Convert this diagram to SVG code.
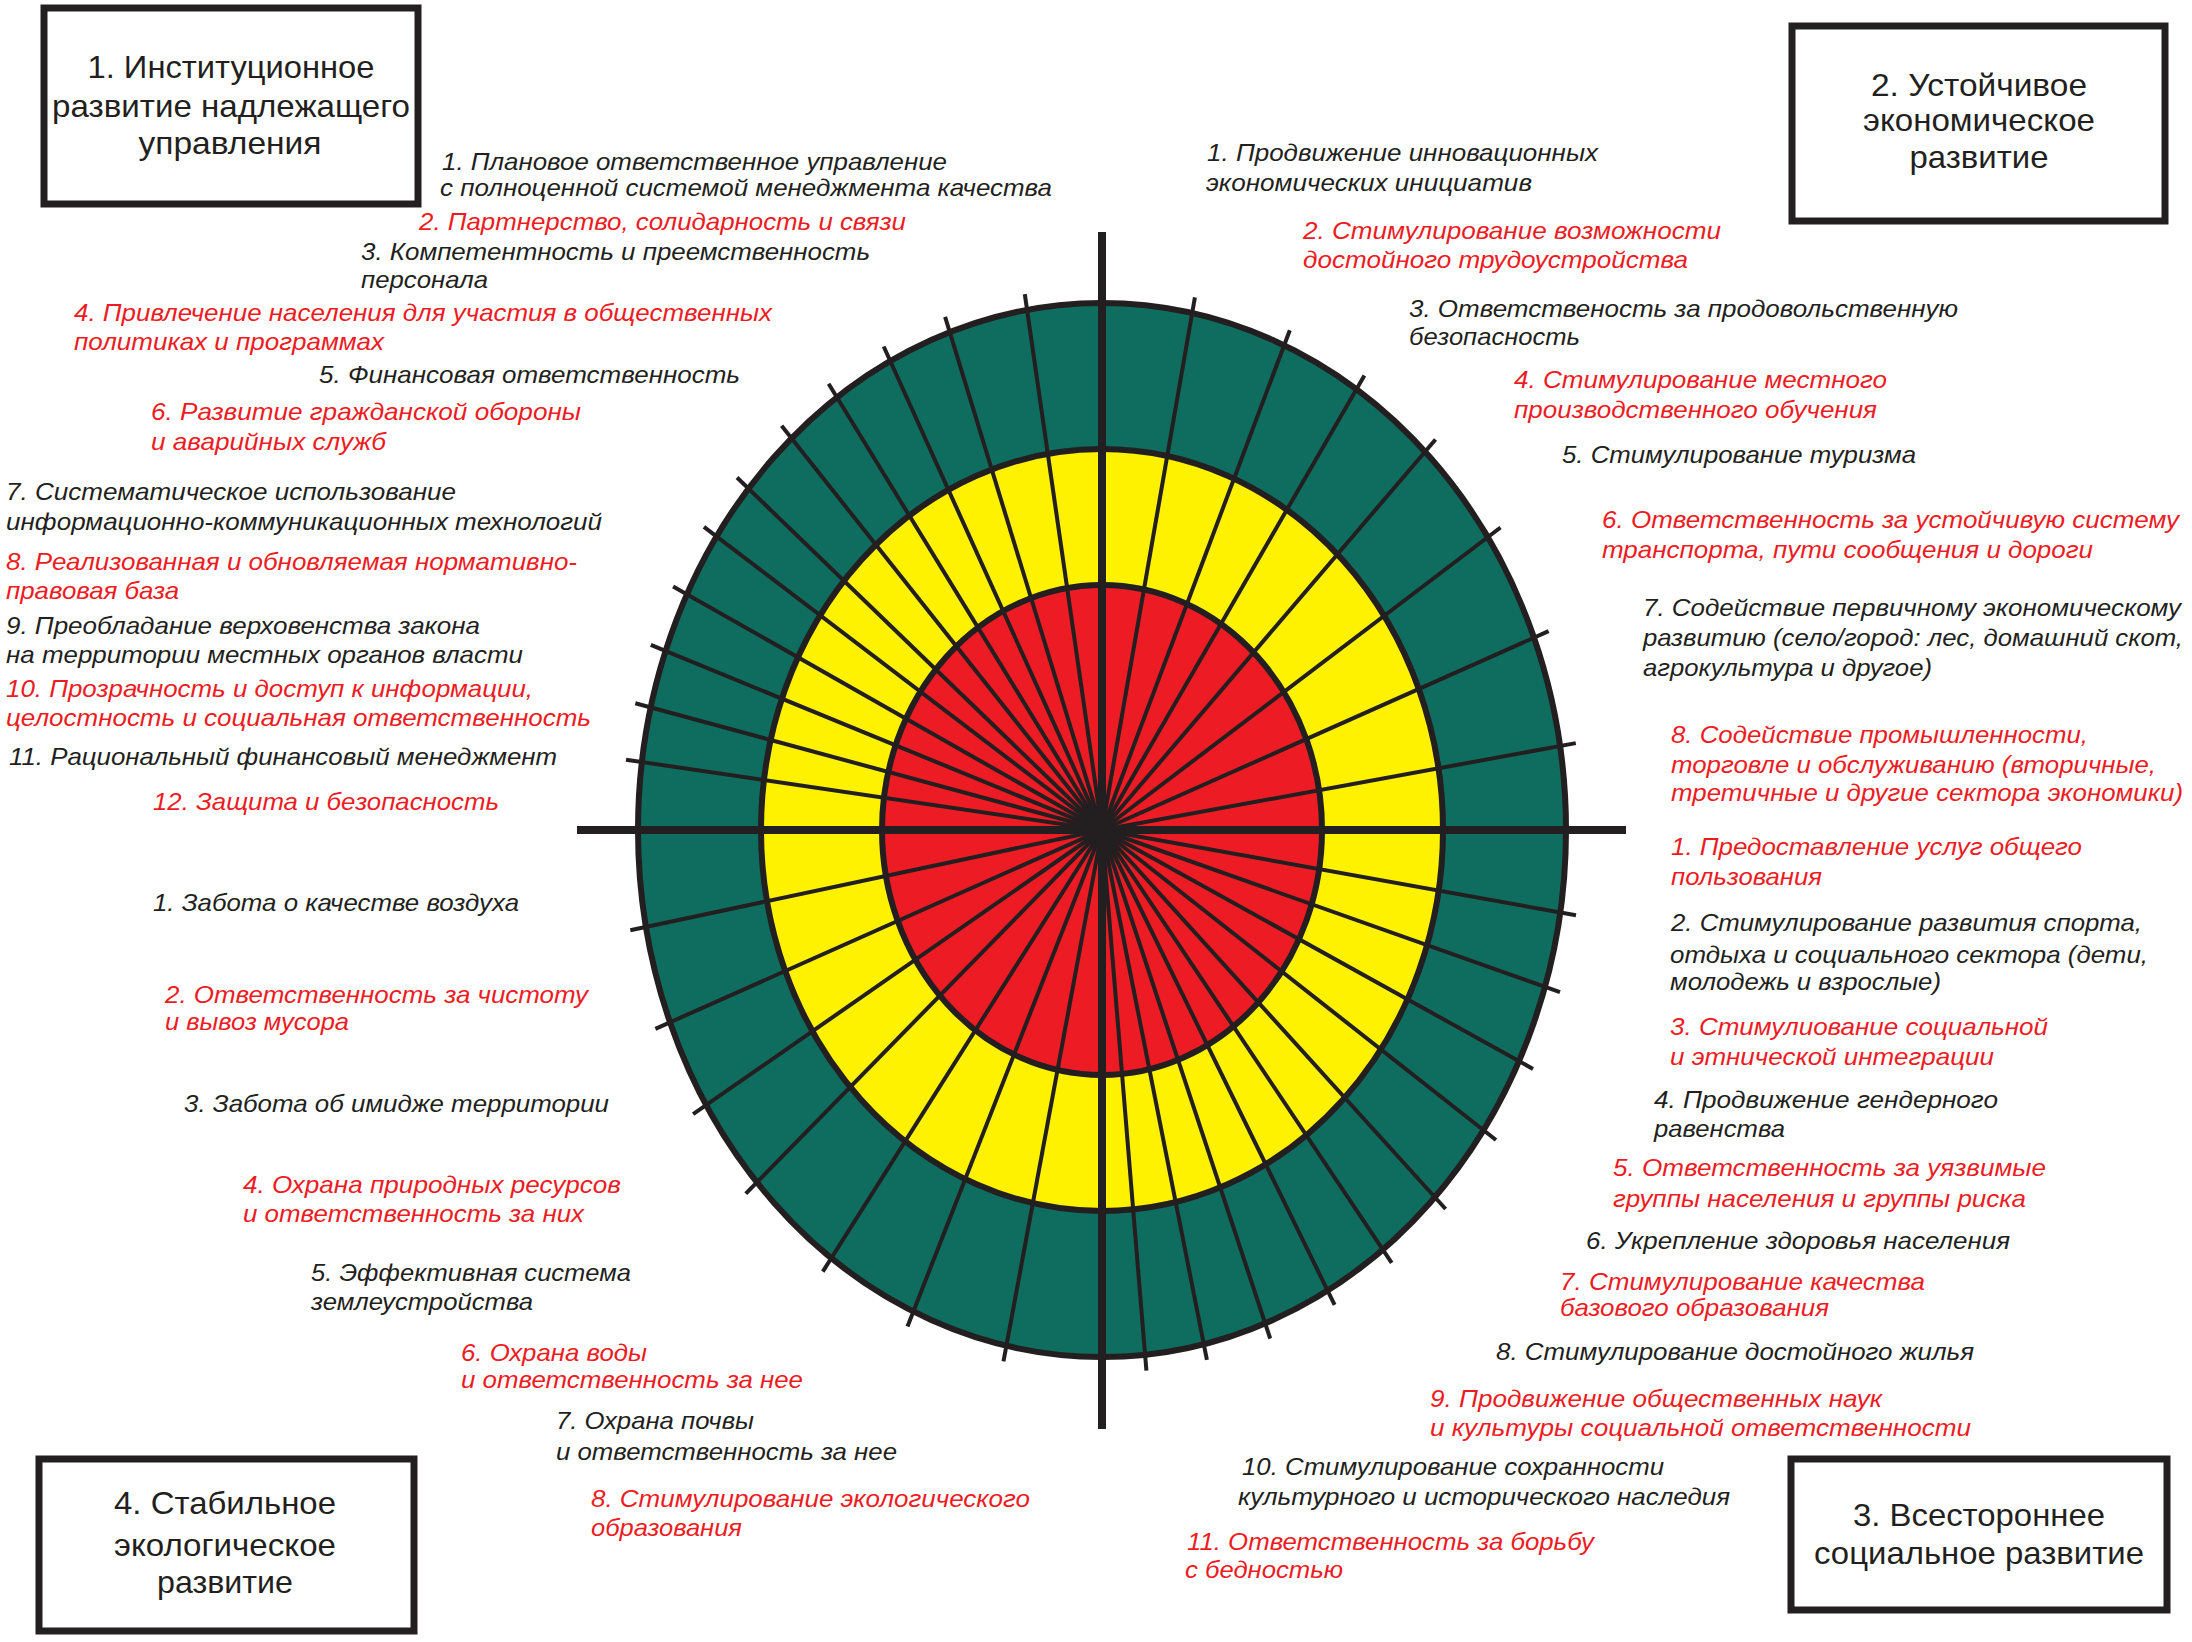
<svg xmlns="http://www.w3.org/2000/svg" width="2192" height="1642" viewBox="0 0 2192 1642">
<style>
.t{font-family:"Liberation Sans",Arial,sans-serif;font-style:italic;font-size:24px;fill:#231f20}
.r{fill:#ed1c24}
.bt{font-family:"Liberation Sans",Arial,sans-serif;font-size:32px;fill:#231f20;text-anchor:middle}
.box{fill:#fff;stroke:#231f20;stroke-width:7}
.ring{stroke:#231f20;stroke-width:6}
.sp{stroke:#231f20;stroke-width:4;stroke-linecap:butt}
.ax{stroke:#231f20;stroke-width:8}
</style>
<rect width="2192" height="1642" fill="#fff"/>
<g id="wheel">
<ellipse class="ring" cx="1102" cy="830" rx="464" ry="527" fill="#0f6d5f"/>
<ellipse class="ring" cx="1102" cy="830" rx="341" ry="381" fill="#fff200"/>
<ellipse class="ring" cx="1102" cy="830" rx="220" ry="245" fill="#ed1c24"/>
</g>
<g id="connectors">
<g id="spokes-q1">
<line class="sp" x1="1102" y1="830" x2="1024.8" y2="294.1"/>
<line class="sp" x1="1102" y1="830" x2="945.1" y2="316.9"/>
<line class="sp" x1="1102" y1="830" x2="883.7" y2="346.5"/>
<line class="sp" x1="1102" y1="830" x2="828.6" y2="383.8"/>
<line class="sp" x1="1102" y1="830" x2="781.6" y2="425.8"/>
<line class="sp" x1="1102" y1="830" x2="737.0" y2="477.5"/>
<line class="sp" x1="1102" y1="830" x2="703.9" y2="526.8"/>
<line class="sp" x1="1102" y1="830" x2="673.1" y2="586.4"/>
<line class="sp" x1="1102" y1="830" x2="650.8" y2="644.9"/>
<line class="sp" x1="1102" y1="830" x2="635.3" y2="703.2"/>
<line class="sp" x1="1102" y1="830" x2="626.0" y2="759.7"/>
</g>
<g id="spokes-q2">
<line class="sp" x1="1102" y1="830" x2="1194.9" y2="297.3"/>
<line class="sp" x1="1102" y1="830" x2="1289.8" y2="330.3"/>
<line class="sp" x1="1102" y1="830" x2="1364.4" y2="375.4"/>
<line class="sp" x1="1102" y1="830" x2="1435.5" y2="439.5"/>
<line class="sp" x1="1102" y1="830" x2="1500.5" y2="527.5"/>
<line class="sp" x1="1102" y1="830" x2="1548.6" y2="631.2"/>
<line class="sp" x1="1102" y1="830" x2="1575.8" y2="743.1"/>
</g>
<g id="spokes-q3">
<line class="sp" x1="1102" y1="830" x2="1576.0" y2="915.3"/>
<line class="sp" x1="1102" y1="830" x2="1560.0" y2="992.2"/>
<line class="sp" x1="1102" y1="830" x2="1533.0" y2="1068.9"/>
<line class="sp" x1="1102" y1="830" x2="1496.0" y2="1140.0"/>
<line class="sp" x1="1102" y1="830" x2="1445.6" y2="1209.0"/>
<line class="sp" x1="1102" y1="830" x2="1391.7" y2="1262.8"/>
<line class="sp" x1="1102" y1="830" x2="1334.6" y2="1304.9"/>
<line class="sp" x1="1102" y1="830" x2="1270.2" y2="1338.5"/>
<line class="sp" x1="1102" y1="830" x2="1206.9" y2="1359.8"/>
<line class="sp" x1="1102" y1="830" x2="1146.4" y2="1370.7"/>
</g>
<g id="spokes-q4">
<line class="sp" x1="1102" y1="830" x2="630.3" y2="930.3"/>
<line class="sp" x1="1102" y1="830" x2="655.4" y2="1028.8"/>
<line class="sp" x1="1102" y1="830" x2="693.1" y2="1114.2"/>
<line class="sp" x1="1102" y1="830" x2="745.8" y2="1193.7"/>
<line class="sp" x1="1102" y1="830" x2="822.8" y2="1271.6"/>
<line class="sp" x1="1102" y1="830" x2="907.5" y2="1326.4"/>
<line class="sp" x1="1102" y1="830" x2="1003.5" y2="1361.4"/>
</g>
<line class="ax" x1="577" y1="830" x2="1626" y2="830"/>
<line class="ax" x1="1102" y1="232" x2="1102" y2="1429"/>
<circle cx="1102" cy="830" r="14" fill="#231f20"/>
</g>

<g id="box1">
<rect class="box" x="44" y="8" width="374" height="196"/>
<text class="bt" x="231" y="78" textLength="287" lengthAdjust="spacingAndGlyphs">1. Институционное</text>
<text class="bt" x="231" y="117" textLength="358" lengthAdjust="spacingAndGlyphs">развитие надлежащего</text>
<text class="bt" x="230" y="154" textLength="183" lengthAdjust="spacingAndGlyphs">управления</text>
</g>
<g id="box2">
<rect class="box" x="1792" y="26" width="373" height="195"/>
<text class="bt" x="1979" y="96" textLength="216" lengthAdjust="spacingAndGlyphs">2. Устойчивое</text>
<text class="bt" x="1979" y="131" textLength="232" lengthAdjust="spacingAndGlyphs">экономическое</text>
<text class="bt" x="1979" y="168" textLength="139" lengthAdjust="spacingAndGlyphs">развитие</text>
</g>
<g id="box3">
<rect class="box" x="1791" y="1459" width="376" height="151"/>
<text class="bt" x="1979" y="1526" textLength="252" lengthAdjust="spacingAndGlyphs">3. Всестороннее</text>
<text class="bt" x="1979" y="1564" textLength="330" lengthAdjust="spacingAndGlyphs">социальное развитие</text>
</g>
<g id="box4">
<rect class="box" x="39" y="1459" width="375" height="172"/>
<text class="bt" x="225" y="1514" textLength="222" lengthAdjust="spacingAndGlyphs">4. Стабильное</text>
<text class="bt" x="225" y="1556" textLength="222" lengthAdjust="spacingAndGlyphs">экологическое</text>
<text class="bt" x="225" y="1593" textLength="136" lengthAdjust="spacingAndGlyphs">развитие</text>
</g>

<g id="q1-items">
<g id="q1-1"><text class="t" x="442" y="170" textLength="505" lengthAdjust="spacingAndGlyphs">1. Плановое ответственное управление</text>
<text class="t" x="440" y="196" textLength="612" lengthAdjust="spacingAndGlyphs">с полноценной системой менеджмента качества</text></g>
<g id="q1-2"><text class="t r" x="419" y="230" textLength="487" lengthAdjust="spacingAndGlyphs">2. Партнерство, солидарность и связи</text></g>
<g id="q1-3"><text class="t" x="361" y="260" textLength="509" lengthAdjust="spacingAndGlyphs">3. Компетентность и преемственность</text>
<text class="t" x="361" y="288" textLength="127" lengthAdjust="spacingAndGlyphs">персонала</text></g>
<g id="q1-4"><text class="t r" x="74" y="321" textLength="698" lengthAdjust="spacingAndGlyphs">4. Привлечение населения для участия в общественных</text>
<text class="t r" x="74" y="350" textLength="310" lengthAdjust="spacingAndGlyphs">политиках и программах</text></g>
<g id="q1-5"><text class="t" x="319" y="383" textLength="421" lengthAdjust="spacingAndGlyphs">5. Финансовая ответственность</text></g>
<g id="q1-6"><text class="t r" x="151" y="420" textLength="430" lengthAdjust="spacingAndGlyphs">6. Развитие гражданской обороны</text>
<text class="t r" x="151" y="450" textLength="235" lengthAdjust="spacingAndGlyphs">и аварийных служб</text></g>
<g id="q1-7"><text class="t" x="6" y="500" textLength="450" lengthAdjust="spacingAndGlyphs">7. Систематическое использование</text>
<text class="t" x="6" y="530" textLength="596" lengthAdjust="spacingAndGlyphs">информационно-коммуникационных технологий</text></g>
<g id="q1-8"><text class="t r" x="6" y="570" textLength="571" lengthAdjust="spacingAndGlyphs">8. Реализованная и обновляемая нормативно-</text>
<text class="t r" x="6" y="599" textLength="173" lengthAdjust="spacingAndGlyphs">правовая база</text></g>
<g id="q1-9"><text class="t" x="6" y="634" textLength="474" lengthAdjust="spacingAndGlyphs">9. Преобладание верховенства закона</text>
<text class="t" x="6" y="663" textLength="517" lengthAdjust="spacingAndGlyphs">на территории местных органов власти</text></g>
<g id="q1-10"><text class="t r" x="6" y="697" textLength="527" lengthAdjust="spacingAndGlyphs">10. Прозрачность и доступ к информации,</text>
<text class="t r" x="6" y="726" textLength="585" lengthAdjust="spacingAndGlyphs">целостность и социальная ответственность</text></g>
<g id="q1-11"><text class="t" x="9" y="765" textLength="548" lengthAdjust="spacingAndGlyphs">11. Рациональный финансовый менеджмент</text></g>
<g id="q1-12"><text class="t r" x="153" y="810" textLength="346" lengthAdjust="spacingAndGlyphs">12. Защита и безопасность</text></g>
</g>

<g id="q2-items">
<g id="q2-1"><text class="t" x="1207" y="161" textLength="391" lengthAdjust="spacingAndGlyphs">1. Продвижение инновационных</text>
<text class="t" x="1206" y="191" textLength="326" lengthAdjust="spacingAndGlyphs">экономических инициатив</text></g>
<g id="q2-2"><text class="t r" x="1303" y="239" textLength="418" lengthAdjust="spacingAndGlyphs">2. Стимулирование возможности</text>
<text class="t r" x="1303" y="268" textLength="385" lengthAdjust="spacingAndGlyphs">достойного трудоустройства</text></g>
<g id="q2-3"><text class="t" x="1409" y="317" textLength="549" lengthAdjust="spacingAndGlyphs">3. Ответственость за продовольственную</text>
<text class="t" x="1409" y="345" textLength="171" lengthAdjust="spacingAndGlyphs">безопасность</text></g>
<g id="q2-4"><text class="t r" x="1514" y="388" textLength="373" lengthAdjust="spacingAndGlyphs">4. Стимулирование местного</text>
<text class="t r" x="1514" y="418" textLength="363" lengthAdjust="spacingAndGlyphs">производственного обучения</text></g>
<g id="q2-5"><text class="t" x="1562" y="463" textLength="354" lengthAdjust="spacingAndGlyphs">5. Стимулирование туризма</text></g>
<g id="q2-6"><text class="t r" x="1602" y="528" textLength="577" lengthAdjust="spacingAndGlyphs">6. Ответственность за устойчивую систему</text>
<text class="t r" x="1602" y="558" textLength="491" lengthAdjust="spacingAndGlyphs">транспорта, пути сообщения и дороги</text></g>
<g id="q2-7"><text class="t" x="1643" y="616" textLength="538" lengthAdjust="spacingAndGlyphs">7. Содействие первичному экономическому</text>
<text class="t" x="1643" y="646" textLength="540" lengthAdjust="spacingAndGlyphs">развитию (село/город: лес, домашний скот,</text>
<text class="t" x="1643" y="676" textLength="289" lengthAdjust="spacingAndGlyphs">агрокультура и другое)</text></g>
<g id="q2-8"><text class="t r" x="1671" y="743" textLength="417" lengthAdjust="spacingAndGlyphs">8. Содействие промышленности,</text>
<text class="t r" x="1671" y="773" textLength="485" lengthAdjust="spacingAndGlyphs">торговле и обслуживанию (вторичные,</text>
<text class="t r" x="1671" y="801" textLength="512" lengthAdjust="spacingAndGlyphs">третичные и другие сектора экономики)</text></g>
</g>

<g id="q3-items">
<g id="q3-1"><text class="t r" x="1671" y="855" textLength="411" lengthAdjust="spacingAndGlyphs">1. Предоставление услуг общего</text>
<text class="t r" x="1671" y="885" textLength="151" lengthAdjust="spacingAndGlyphs">пользования</text></g>
<g id="q3-2"><text class="t" x="1671" y="931" textLength="471" lengthAdjust="spacingAndGlyphs">2. Стимулирование развития спорта,</text>
<text class="t" x="1670" y="963" textLength="478" lengthAdjust="spacingAndGlyphs">отдыха и социального сектора (дети,</text>
<text class="t" x="1670" y="990" textLength="271" lengthAdjust="spacingAndGlyphs">молодежь и взрослые)</text></g>
<g id="q3-3"><text class="t r" x="1670" y="1035" textLength="378" lengthAdjust="spacingAndGlyphs">3. Стимулиование социальной</text>
<text class="t r" x="1670" y="1065" textLength="324" lengthAdjust="spacingAndGlyphs">и этнической интеграции</text></g>
<g id="q3-4"><text class="t" x="1654" y="1108" textLength="344" lengthAdjust="spacingAndGlyphs">4. Продвижение гендерного</text>
<text class="t" x="1654" y="1137" textLength="131" lengthAdjust="spacingAndGlyphs">равенства</text></g>
<g id="q3-5"><text class="t r" x="1613" y="1176" textLength="433" lengthAdjust="spacingAndGlyphs">5. Ответственность за уязвимые</text>
<text class="t r" x="1613" y="1207" textLength="413" lengthAdjust="spacingAndGlyphs">группы населения и группы риска</text></g>
<g id="q3-6"><text class="t" x="1586" y="1249" textLength="424" lengthAdjust="spacingAndGlyphs">6. Укрепление здоровья населения</text></g>
<g id="q3-7"><text class="t r" x="1560" y="1290" textLength="365" lengthAdjust="spacingAndGlyphs">7. Стимулирование качества</text>
<text class="t r" x="1560" y="1316" textLength="269" lengthAdjust="spacingAndGlyphs">базового образования</text></g>
<g id="q3-8"><text class="t" x="1496" y="1360" textLength="478" lengthAdjust="spacingAndGlyphs">8. Стимулирование достойного жилья</text></g>
<g id="q3-9"><text class="t r" x="1430" y="1407" textLength="452" lengthAdjust="spacingAndGlyphs">9. Продвижение общественных наук</text>
<text class="t r" x="1430" y="1436" textLength="541" lengthAdjust="spacingAndGlyphs">и культуры социальной ответственности</text></g>
<g id="q3-10"><text class="t" x="1242" y="1475" textLength="422" lengthAdjust="spacingAndGlyphs">10. Стимулирование сохранности</text>
<text class="t" x="1238" y="1505" textLength="492" lengthAdjust="spacingAndGlyphs">культурного и исторического наследия</text></g>
<g id="q3-11"><text class="t r" x="1187" y="1550" textLength="407" lengthAdjust="spacingAndGlyphs">11. Ответственность за борьбу</text>
<text class="t r" x="1185" y="1578" textLength="158" lengthAdjust="spacingAndGlyphs">с бедностью</text></g>
</g>

<g id="q4-items">
<g id="q4-1"><text class="t" x="153" y="911" textLength="366" lengthAdjust="spacingAndGlyphs">1. Забота о качестве воздуха</text></g>
<g id="q4-2"><text class="t r" x="165" y="1003" textLength="423" lengthAdjust="spacingAndGlyphs">2. Ответственность за чистоту</text>
<text class="t r" x="165" y="1030" textLength="184" lengthAdjust="spacingAndGlyphs">и вывоз мусора</text></g>
<g id="q4-3"><text class="t" x="184" y="1112" textLength="425" lengthAdjust="spacingAndGlyphs">3. Забота об имидже территории</text></g>
<g id="q4-4"><text class="t r" x="243" y="1193" textLength="378" lengthAdjust="spacingAndGlyphs">4. Охрана природных ресурсов</text>
<text class="t r" x="243" y="1222" textLength="341" lengthAdjust="spacingAndGlyphs">и ответственность за них</text></g>
<g id="q4-5"><text class="t" x="311" y="1281" textLength="320" lengthAdjust="spacingAndGlyphs">5. Эффективная система</text>
<text class="t" x="311" y="1310" textLength="222" lengthAdjust="spacingAndGlyphs">землеустройства</text></g>
<g id="q4-6"><text class="t r" x="461" y="1361" textLength="186" lengthAdjust="spacingAndGlyphs">6. Охрана воды</text>
<text class="t r" x="461" y="1388" textLength="342" lengthAdjust="spacingAndGlyphs">и ответственность за нее</text></g>
<g id="q4-7"><text class="t" x="556" y="1429" textLength="198" lengthAdjust="spacingAndGlyphs">7. Охрана почвы</text>
<text class="t" x="556" y="1460" textLength="341" lengthAdjust="spacingAndGlyphs">и ответственность за нее</text></g>
<g id="q4-8"><text class="t r" x="591" y="1507" textLength="439" lengthAdjust="spacingAndGlyphs">8. Стимулирование экологического</text>
<text class="t r" x="591" y="1536" textLength="151" lengthAdjust="spacingAndGlyphs">образования</text></g>
</g>
</svg>
